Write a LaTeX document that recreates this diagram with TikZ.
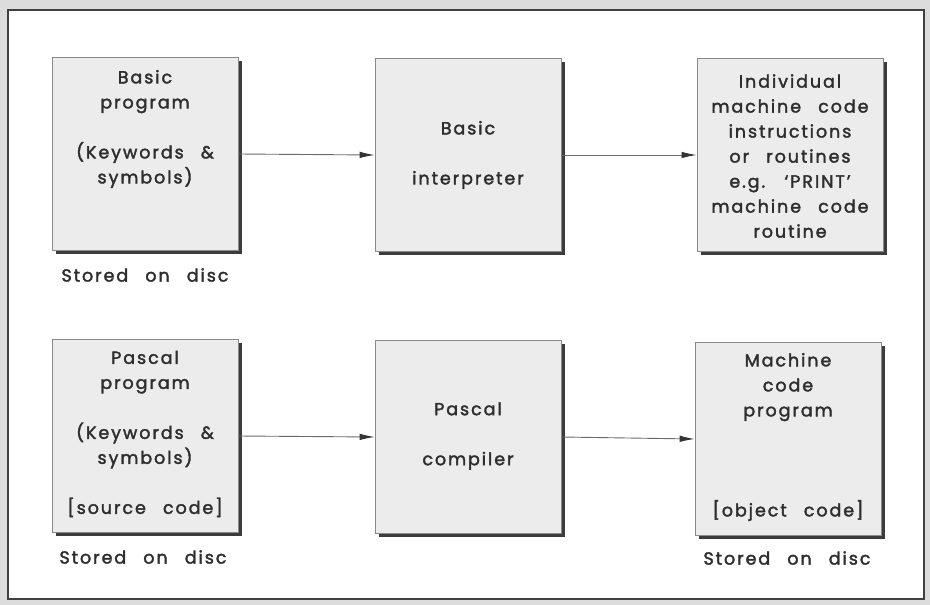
\documentclass[tikz,border=0pt]{standalone}
\usepackage{fontspec}
\setmainfont[LetterSpace=11,WordSpace=2.6,FakeBold=2]{Poppins}
\usetikzlibrary{arrows.meta,shadows}
\definecolor{inkc}{HTML}{2E2E2E}
\definecolor{boxfill}{HTML}{ECECEC}
\definecolor{boxline}{HTML}{8A8A8A}
\definecolor{shadowc}{HTML}{3C3C3C}
\definecolor{outerc}{HTML}{DCDCDC}
\definecolor{linec}{HTML}{6A6A6A}
\begin{document}
\begin{tikzpicture}[x=1pt,y=-1pt,
  stepbox/.style={draw=boxline, line width=0.8pt, fill=boxfill, minimum width=186pt, minimum height=193pt, inner sep=0pt,
    drop shadow={shadow xshift=3.5pt, shadow yshift=-3.5pt, fill=shadowc, opacity=1}},
  txt/.style={text=inkc, align=center, inner sep=0pt, font=\fontsize{17.5}{25}\selectfont},
  arr/.style={draw=linec, line width=0.9pt, -{Latex[length=15pt,width=6.5pt,color=black!80]}}]
\useasboundingbox (0,0) rectangle (930,605);
\fill[outerc] (0,0) rectangle (930,605);
\draw[fill=white, draw=black!75, line width=1.8pt] (8,10) rectangle (924,599);

\node[stepbox] (b1) at (145,154) {};
\node[stepbox] (b2) at (468,155) {};
\node[stepbox] (b3) at (790,155) {};
\node[stepbox] (b4) at (145,436) {};
\node[stepbox] (b5) at (468,437) {};
\node[stepbox] (b6) at (788,439) {};

\node[txt] (t1) at (145,129) {Basic\\program\\[25pt](Keywords \&\\symbols)};
\node[txt] (t2) at (468,155) {Basic\\[25pt]interpreter};
\node[txt] (t3) at (790,156) {Individual\\machine code\\instructions\\or routines\\e.g. `PRINT'\\machine code\\routine};
\node[txt] (t4) at (145,434) {Pascal\\program\\[25pt](Keywords \&\\symbols)\\[25pt][source code]};
\node[txt] (t5) at (468,436) {Pascal\\[25pt]compiler};
\node[txt] (t6) at (788,437) {Machine\\code\\program\\[75pt][object code]};

\node[txt] (s1) at (145,275) {Stored on disc};
\node[txt] (s4) at (143,557) {Stored on disc};
\node[txt] (s6) at (787,558) {Stored on disc};

\draw[arr] (b1.east) -- (b2.west);
\draw[arr] (b2.east) -- (b3.west);
\draw[arr] (b4.east) -- (b5.west);
\draw[arr] (b5.east) -- (b6.west);
\end{tikzpicture}
\end{document}
